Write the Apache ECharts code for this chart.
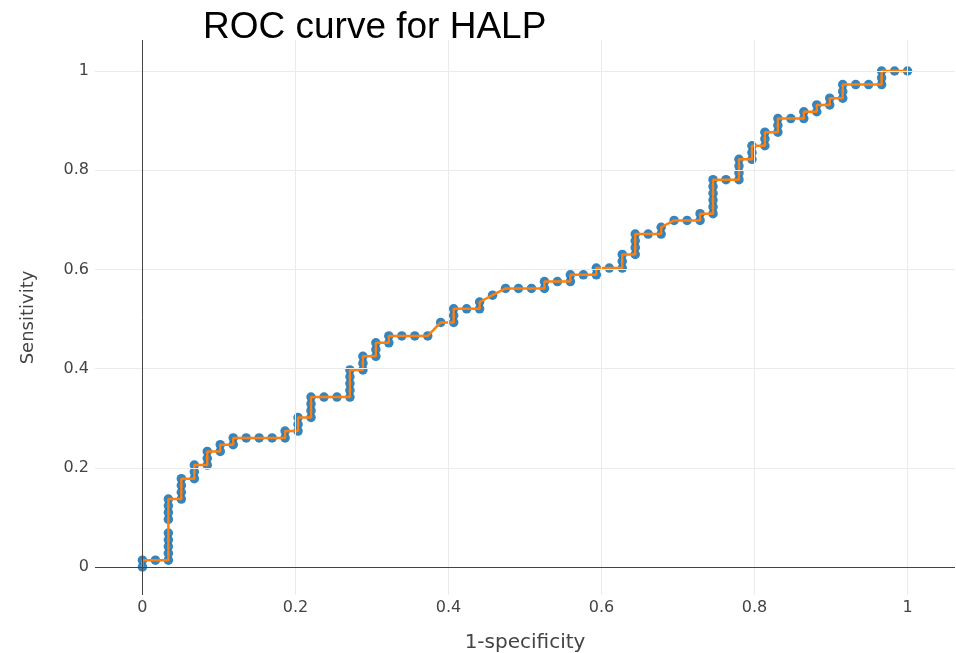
<!DOCTYPE html>
<html>
<head>
<meta charset="utf-8">
<title>ROC curve for HALP</title>
<script src="https://cdn.jsdelivr.net/npm/echarts@6/dist/echarts.min.js"></script>
<style>
  html, body { margin: 0; padding: 0; background: #fff; }
  #chart { width: 956px; height: 653px; }
</style>
</head>
<body>
<div id="chart"></div>
<script>
// Totals of negative and positive cases behind the ROC curve
const N_NEG = 59;
const N_POS = 73;

// Cumulative false-positive counts at each threshold
const falsePos = [
  0, 0, 1, 2, 2, 2, 2, 2, 2, 2, 2, 2,
  3, 3, 3, 3,
  4, 4, 4,
  5, 5, 5,
  6, 6,
  7, 7,
  8, 9, 10, 11, 11,
  12, 12, 12,
  13, 13, 13, 13,
  14, 15, 16, 16, 16, 16, 16,
  17, 17, 17,
  18, 18, 18,
  19, 19,
  20, 21, 22, 23,
  24, 24, 24,
  25, 26, 26, 27, 28,
  29, 30, 31, 31,
  32, 33, 33,
  34, 35, 35,
  36, 37, 37, 37,
  38, 38, 38, 38,
  39, 40, 40, 41,
  42, 43, 43,
  44, 44, 44, 44, 44, 44,
  45, 46, 46, 46, 46,
  47, 47, 47,
  48, 48, 48,
  49, 49, 49,
  50, 51, 51,
  52, 52,
  53, 53,
  54, 54, 54,
  55, 56, 57, 57, 57,
  58, 59
];

// Cumulative true-positive counts at each threshold
const truePos = [
  0, 1, 1, 1, 2, 3, 4, 5, 7, 8, 9, 10,
  10, 11, 12, 13,
  13, 14, 15,
  15, 16, 17,
  17, 18,
  18, 19,
  19, 19, 19, 19, 20,
  20, 21, 22,
  22, 23, 24, 25,
  25, 25, 25, 26, 27, 28, 29,
  29, 30, 31,
  31, 32, 33,
  33, 34,
  34, 34, 34, 36,
  36, 37, 38,
  38, 38, 39, 40, 41,
  41, 41, 41, 42,
  42, 42, 43,
  43, 43, 44,
  44, 44, 45, 46,
  46, 47, 48, 49,
  49, 49, 50, 51,
  51, 51, 52,
  52, 53, 54, 55, 56, 57,
  57, 57, 58, 59, 60,
  60, 61, 62,
  62, 63, 64,
  64, 65, 66,
  66, 66, 67,
  67, 68,
  68, 69,
  69, 70, 71,
  71, 71, 71, 72, 73,
  73, 73
];

// Tick labels on both axes
const xTicks = [0, 0.2, 0.4, 0.6, 0.8, 1];
const yTicks = [0, 0.2, 0.4, 0.6, 0.8, 1];

// Padded axis ranges around [0, 1]
const xRange = [-0.062, 1.062];
const yRange = [-0.0565, 1.0625];

const rocPoints = falsePos.map((fp, i) => [fp / N_NEG, truePos[i] / N_POS]);

const tickFont = { fontFamily: 'DejaVu Sans', fontSize: 16, color: '#444' };

const gridColor = '#ebebeb';
const zeroColor = '#444444';

const gridLines = [];
xTicks.filter(v => v !== 0).forEach(v => gridLines.push({ xAxis: v, lineStyle: { color: gridColor, width: 1, type: 'solid' } }));
yTicks.filter(v => v !== 0).forEach(v => gridLines.push({ yAxis: v, lineStyle: { color: gridColor, width: 1, type: 'solid' } }));
gridLines.push({ xAxis: 0, lineStyle: { color: zeroColor, width: 1, type: 'solid' } });
gridLines.push({ yAxis: 0, lineStyle: { color: zeroColor, width: 1, type: 'solid' } });

const chart = echarts.init(document.getElementById('chart'));
chart.setOption({
  animation: false,
  backgroundColor: '#ffffff',
  title: {
    text: 'ROC curve for HALP',
    left: 198,
    top: 4,
    textStyle: { fontFamily: 'Liberation Sans', fontSize: 37, fontWeight: 'normal', color: '#000' }
  },
  grid: { left: 95, right: 1, top: 40, bottom: 58, containLabel: false, outerBoundsMode: 'none' },
  xAxis: {
    type: 'value',
    min: xRange[0],
    max: xRange[1],
    name: '1-specificity',
    nameLocation: 'middle',
    nameGap: 38,
    nameMoveOverlap: false,
    nameTextStyle: { fontFamily: 'DejaVu Sans', fontSize: 20, color: '#444' },
    axisLine: { show: false },
    axisTick: { show: false },
    splitLine: { show: false },
    axisLabel: Object.assign({ customValues: xTicks, margin: 5 }, tickFont)
  },
  yAxis: {
    type: 'value',
    min: yRange[0],
    max: yRange[1],
    name: 'Sensitivity',
    nameLocation: 'middle',
    nameGap: 58,
    nameMoveOverlap: false,
    nameTextStyle: { fontFamily: 'DejaVu Sans', fontSize: 18, color: '#444' },
    axisLine: { show: false },
    axisTick: { show: false },
    splitLine: { show: false },
    axisLabel: Object.assign({ customValues: yTicks, margin: 6 }, tickFont)
  },
  series: [
    {
      name: 'grid',
      type: 'line',
      data: [],
      silent: true,
      z: 1,
      markLine: {
        silent: true,
        symbol: ['none', 'none'],
        label: { show: false },
        animation: false,
        data: gridLines
      }
    },
    {
      name: 'thresholds',
      type: 'scatter',
      data: rocPoints,
      symbol: 'circle',
      symbolSize: 9.5,
      itemStyle: { color: '#1f77b4', opacity: 0.9 },
      z: 3
    },
    {
      name: 'ROC',
      type: 'line',
      data: rocPoints,
      showSymbol: false,
      symbol: 'none',
      lineStyle: { color: '#ff7f0e', width: 2.5 },
      z: 4
    }
  ]
});
</script>
</body>
</html>
